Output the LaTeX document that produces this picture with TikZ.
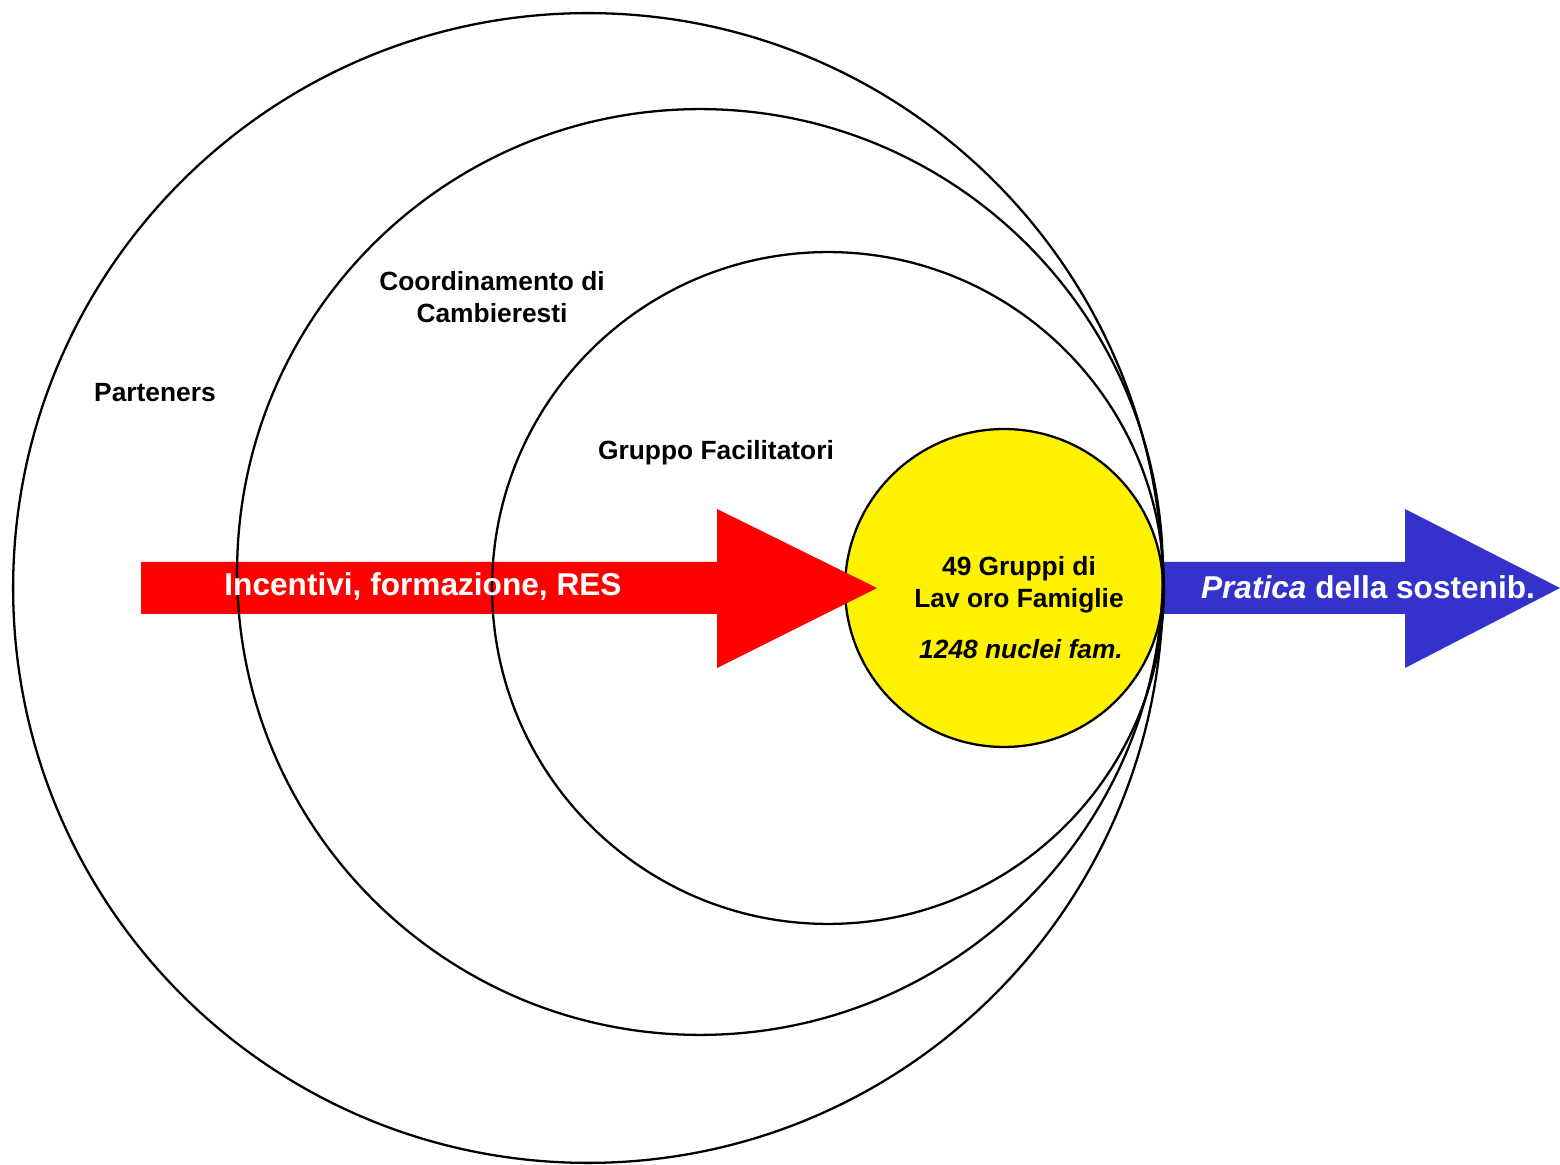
\documentclass[tikz,border=0pt]{standalone}
\usepackage{fontspec}
\setmainfont{Liberation Sans}
\usepackage{tikz}
\usetikzlibrary{positioning}
\definecolor{arrowblue}{RGB}{51,51,204}
\tikzstyle{ring}      = [circle, draw=black, line width=1.3pt, inner sep=0pt]
\tikzstyle{label}     = [font=\bfseries\fontsize{15}{18}\selectfont, align=center, inner sep=0pt]
\tikzstyle{bigtext}   = [font=\bfseries\fontsize{18}{21}\selectfont, text=white, inner sep=0pt]

\begin{document}
\begin{tikzpicture}[x=0.02cm, y=-0.02cm]
        \useasboundingbox (0,0) rectangle (1560,1165);

        % yellow core first, arrow lies on it
        \node[ring, fill=yellow, minimum size=6.36cm] (famiglie) at (1004,588) {};

        \fill[red] (141,562) -- (717,562) -- (717,509) -- (877,588) -- (717,668) -- (717,614) -- (141,614) -- cycle;
        \fill[arrowblue] (1163,562) -- (1405,562) -- (1405,509) -- (1560,588) -- (1405,668) -- (1405,614) -- (1163,614) -- cycle;

        \node[ring, minimum size=23cm] (parteners) at (588,588) {};
        \node[ring, minimum size=18.52cm] (coord) at (700,572) {};
        \node[ring, minimum size=13.44cm] (facil) at (828,588) {};

        \node[label] (lparteners) at (155,393) {Parteners};
        \node[label] (lcoord) at (492,297) {Coordinamento di\\Cambieresti};
        \node[label] (lfacil) at (716,453) {Gruppo Facilitatori};
        \node[label] (lgruppi) at (1019,585) {49 Gruppi di\\Lav oro Famiglie};
        \node[label, font=\bfseries\itshape\fontsize{15}{18}\selectfont] (lnuclei) at (1021,649) {1248 nuclei fam.};

        \node[bigtext] (lincentivi) at (423,586) {Incentivi, formazione, RES};
        \node[bigtext] (lpratica) at (1368,587) {\textit{Pratica} della sostenib.};
    \end{tikzpicture}
\end{document}
